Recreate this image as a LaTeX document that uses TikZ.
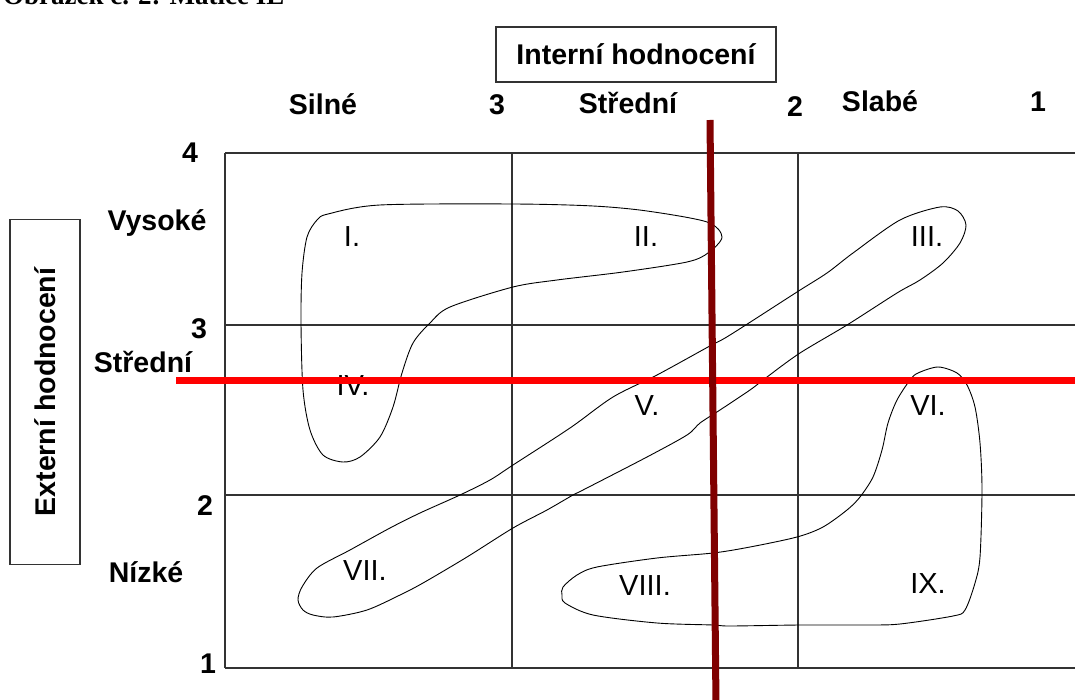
\documentclass[tikz,border=0pt]{standalone}
\usepackage{fontspec}
\setmainfont{Liberation Sans}
\newfontfamily\capfont{Liberation Serif}
\begin{document}
\begin{tikzpicture}[x=1pt,y=-1pt,
  lbl/.style={font=\fontsize{28.5}{28.5}\selectfont\bfseries, inner sep=0pt, anchor=base},
  num/.style={font=\fontsize{29}{29}\selectfont, inner sep=0pt, anchor=base},
  grid/.style={line width=1.3pt, black!80},
  blob/.style={line width=0.9pt, black},
  titlebox/.style={draw=black!80, text=black, line width=1.3pt, minimum width=280pt, minimum height=55pt, inner sep=0pt, font=\fontsize{28.5}{28.5}\selectfont\bfseries}
]
\useasboundingbox (0,0) rectangle (1075,700);
\clip (0,0) rectangle (1075,700);
% caption
\node[font=\fontsize{27}{27}\selectfont\capfont\bfseries, inner sep=0pt, anchor=base west] (cap) at (3,5) {Obrázek č. 2: Matice IE};
% grid
\coordinate (g1) at (225,153); \coordinate (g2) at (1080,153);
\coordinate (g3) at (225,325); \coordinate (g4) at (1080,325);
\coordinate (g5) at (225,495); \coordinate (g6) at (1080,495);
\coordinate (g7) at (225,668); \coordinate (g8) at (1080,668);
\coordinate (v1) at (512,153); \coordinate (v2) at (512,668);
\coordinate (v3) at (798,153); \coordinate (v4) at (798,668);
\draw[grid] (g1) -- (g2);
\draw[grid] (g3) -- (g4);
\draw[grid] (g5) -- (g6);
\draw[grid] (g7) -- (g8);
\draw[grid] (g1) -- (g7);
\draw[grid] (v1) -- (v2);
\draw[grid] (v3) -- (v4);
% boxes
\node[titlebox] (ih) at (636,54.5) {Interní hodnocení};
\node[titlebox, minimum width=345pt, minimum height=70pt, rotate=90] (eh) at (45,392) {Externí hodnocení};
% top labels
\node[lbl] (silne) at (323,115) {Silné};
\node[lbl] (t3) at (497,115) {3};
\node[lbl] (stredni) at (628,114) {Střední};
\node[lbl] (t2) at (795,117) {2};
\node[lbl] (slabe) at (880,112) {Slabé};
\node[lbl] (t1) at (1038,112) {1};
% left labels
\node[lbl] (l4) at (190,163) {4};
\node[lbl] (vys) at (157,231) {Vysoké};
\node[lbl] (l3) at (199,338) {3};
\node[lbl] (str) at (143,372) {Střední};
\node[lbl] (l2) at (205,515) {2};
\node[lbl] (niz) at (146,582) {Nízké};
\node[lbl] (l1) at (208,673) {1};
% blobs
\draw[blob] plot[smooth cycle, tension=0.5] coordinates {
 (328,214) (380,205) (513,204) (593,206) (647,211) (707,222) (722,237) (708,253) (687,262)
 (623,272) (557,280) (513,287) (450,307) (430,323) (413,343) (402,373) (393,407) (380,437)
 (360,457) (343,462) (323,455) (310,430) (303,390) (301,323) (302,273) (307,237) (317,220)};
\draw[blob] plot[smooth cycle, tension=0.5] coordinates {
 (298,600) (302,587) (317,568) (350,550) (390,528) (420,513) (460,495) (490,480) (513,465)
 (570,428) (613,397) (657,375) (708,347) (730,335) (797,292) (827,273) (853,253) (900,220)
 (940,207) (958,211) (966,225) (960,243) (943,263) (920,280) (897,293) (847,325) (800,353)
 (767,377) (750,390) (720,410) (700,423) (687,435) (647,457) (583,490) (573,495) (547,510)
 (513,528) (467,557) (423,583) (400,595) (367,610) (333,617) (313,615) (303,610)};
\draw[blob] plot[smooth cycle, tension=0.5] coordinates {
 (918,373) (938,367) (957,373) (967,385) (975,407) (980,443) (982,490) (980,557) (975,583)
 (965,610) (953,616) (900,624) (867,625) (800,625) (730,626) (713,625) (657,623) (593,615)
 (565,603) (562,595) (563,587) (577,575) (597,567) (657,558) (713,553) (750,547) (797,537)
 (823,527) (847,510) (860,497) (873,477) (882,450) (888,423) (897,400) (910,380)};
% numerals
\node[num] (n1) at (352,247) {I.};
\node[num] (n2) at (646,247) {II.};
\node[num] (n3) at (927,247) {III.};
\node[num] (n4) at (353,395) {IV.};
\node[num] (n5) at (647,415) {V.};
\node[num] (n6) at (928,415) {VI.};
\node[num] (n7) at (365,580) {VII.};
\node[num] (n8) at (645,595) {VIII.};
\node[num] (n9) at (928,593) {IX.};
% red lines
\coordinate (r1) at (176,380); \coordinate (r2) at (1080,380);
\draw[line width=7pt, red] (r1) -- (r2);
\coordinate (d1) at (710,120); \coordinate (d2) at (716,705);
\draw[line width=7pt, color={rgb,255:red,128;green,0;blue,0}] (d1) -- (d2);
\end{tikzpicture}
\end{document}
